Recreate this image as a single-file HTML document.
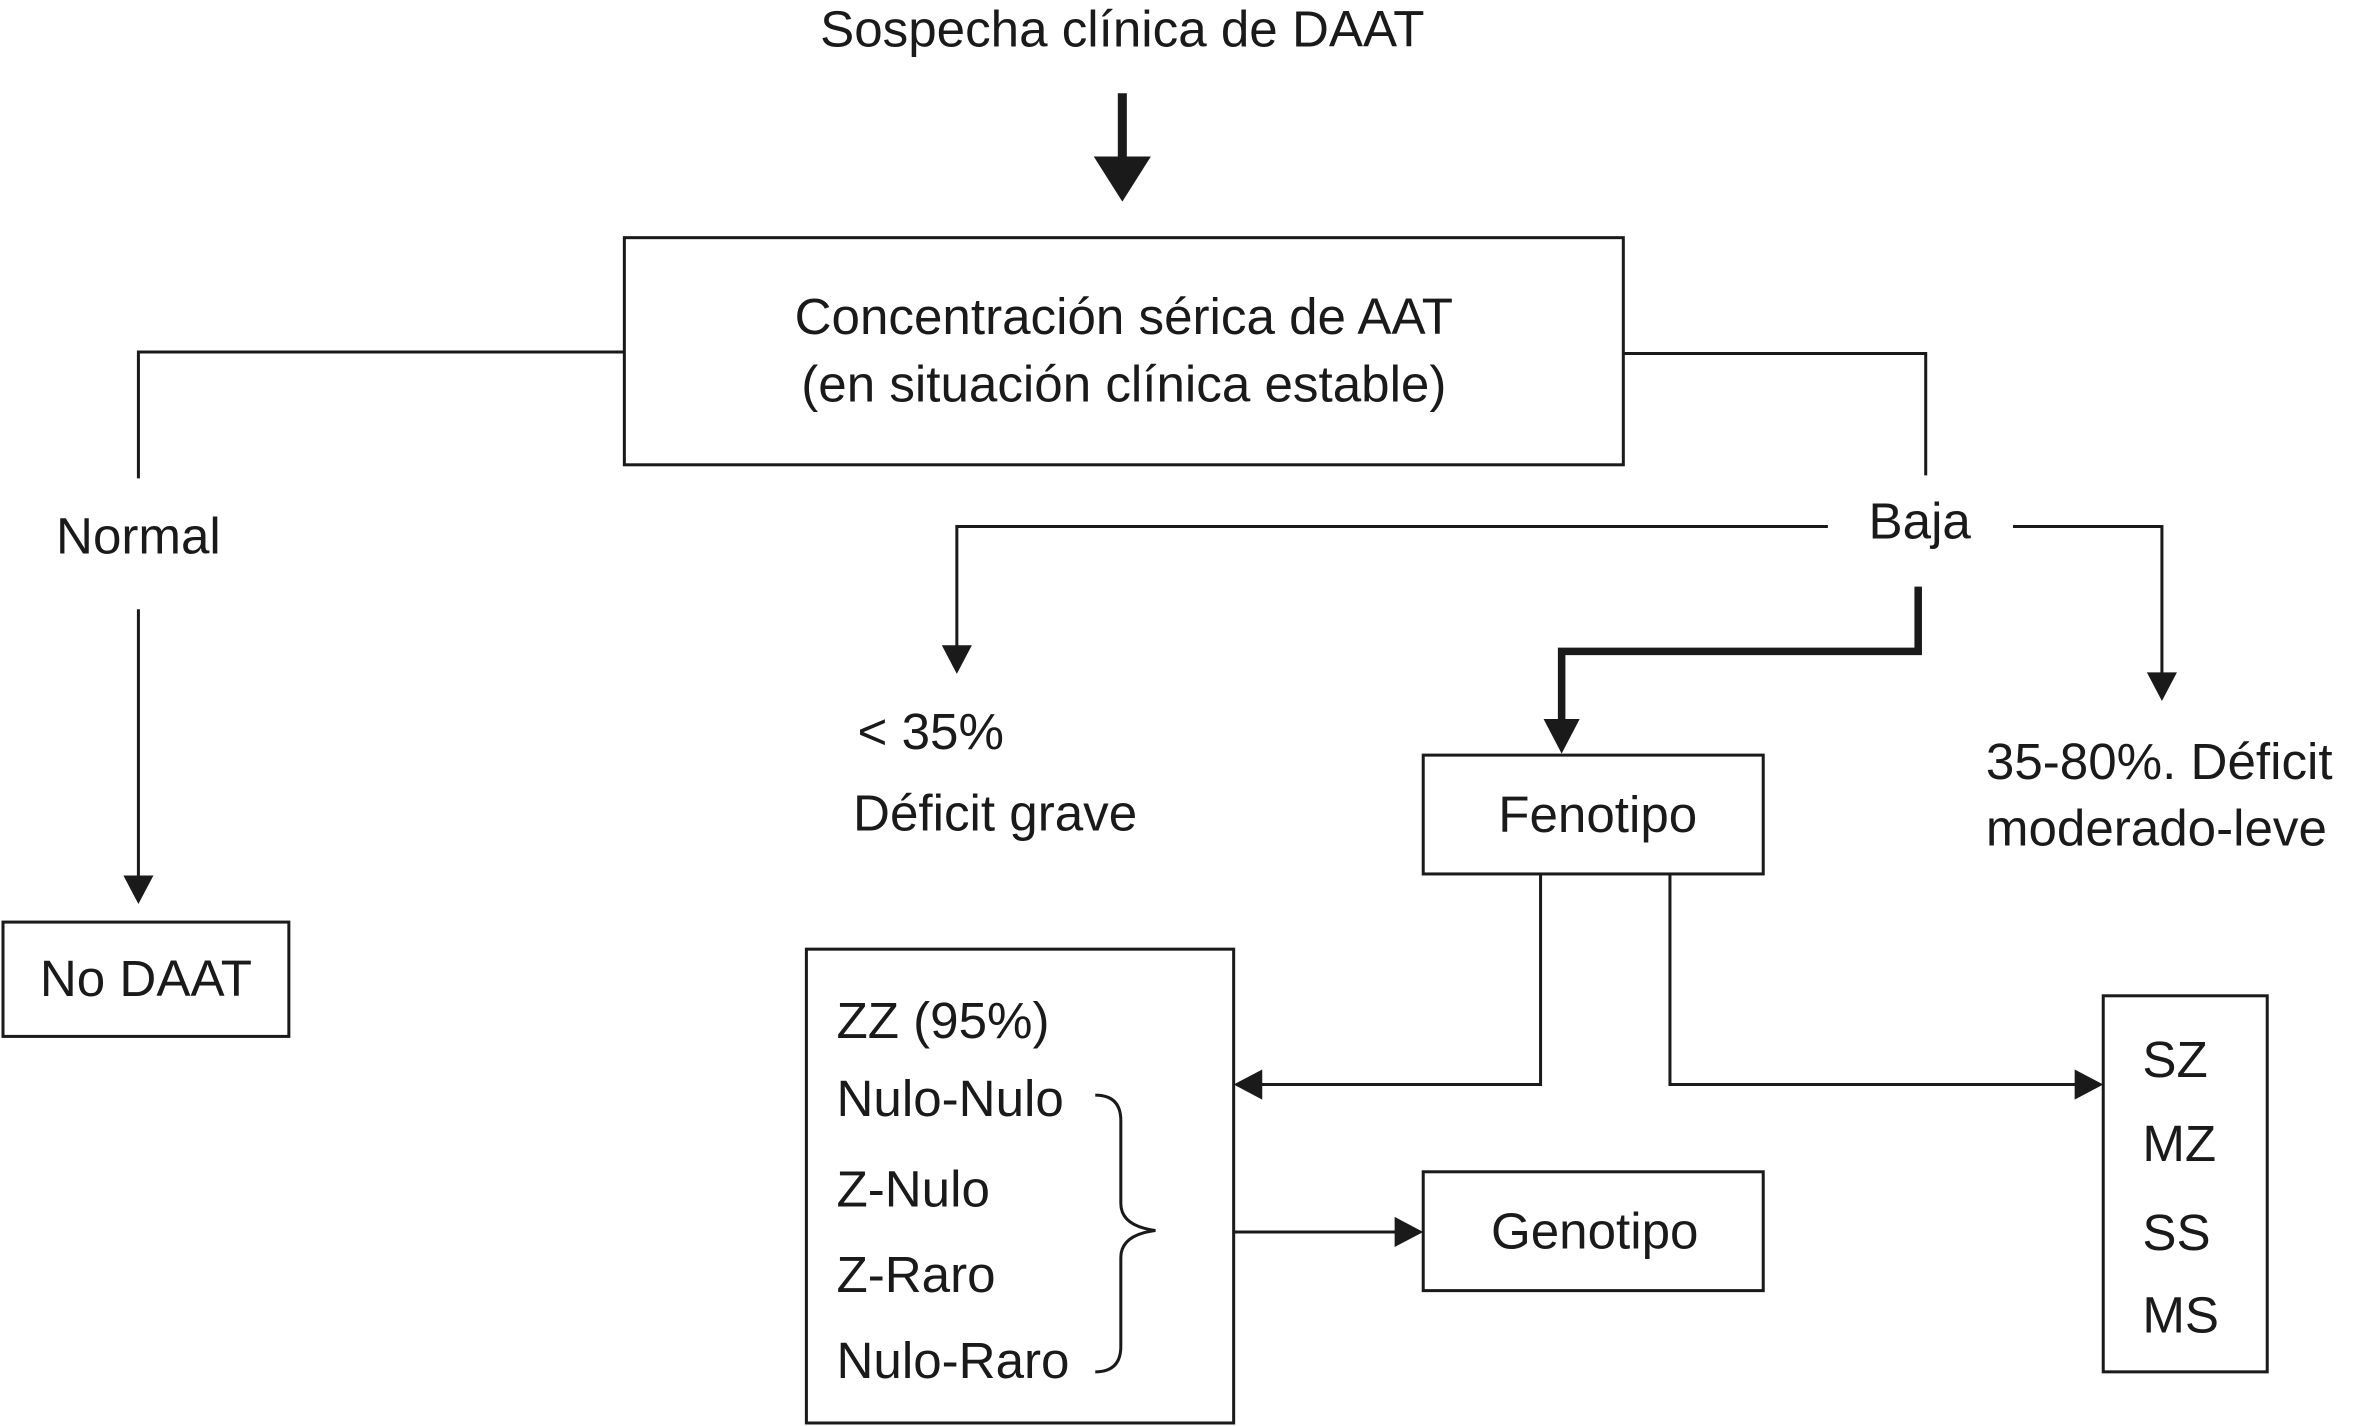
<!DOCTYPE html>
<html><head><meta charset="utf-8"><style>
html,body{margin:0;padding:0;background:#fff;}
svg{display:block;}
text{font-family:"Liberation Sans",Arial,sans-serif;font-size:34px;fill:#1a1a1a;}
</style></head><body>
<svg width="2359" height="1426" viewBox="0 0 1568 948" preserveAspectRatio="none" xmlns="http://www.w3.org/2000/svg">
<g stroke="#1a1a1a" fill="none" stroke-width="2">
<rect x="415" y="158" width="664" height="151"/>
<rect x="2" y="613" width="190" height="76"/>
<rect x="946" y="502" width="226" height="79"/>
<rect x="536" y="631" width="284" height="315"/>
<rect x="1398" y="662" width="109" height="250"/>
<rect x="946" y="779" width="226" height="79"/>
<polyline points="415,234 92,234 92,318"/>
<polyline points="92,405 92,582"/>
<polyline points="1079,235 1280,235 1280,316"/>
<polyline points="1215,350 636,350 636,430"/>
<polyline points="1338,350 1437,350 1437,448"/>
<polyline points="1024,581 1024,721 838,721"/>
<polyline points="1110,581 1110,721 1380,721"/>
<polyline points="820,819 928,819"/>
<path d="M728,728 Q745,728 745,745 L745,800 Q745,815 768,818 Q745,821 745,836 L745,895 Q745,912 728,912"/>
<polyline points="1275,390 1275,433 1038,433 1038,480" stroke-width="5"/>
<line x1="746" y1="62" x2="746" y2="106" stroke-width="6"/>
</g>
<g fill="#1a1a1a">
<polygon points="727,104 765,104 746,134"/>
<polygon points="1026,478 1050,478 1038,501"/>
<polygon points="82,582 102,582 92,601"/>
<polygon points="626,429 646,429 636,448"/>
<polygon points="1427,447 1447,447 1437,466"/>
<polygon points="839,711 839,731 820,721"/>
<polygon points="1379,711 1379,731 1398,721"/>
<polygon points="927,809 927,829 946,819"/>
</g>
<text x="746" y="31" text-anchor="middle">Sospecha clínica de DAAT</text>
<text x="747" y="222" text-anchor="middle">Concentración sérica de AAT</text>
<text x="747" y="267" text-anchor="middle">(en situación clínica estable)</text>
<text x="92" y="368" text-anchor="middle">Normal</text>
<text x="97" y="662" text-anchor="middle">No DAAT</text>
<text x="1276" y="358" text-anchor="middle">Baja</text>
<text x="570" y="498">&lt; 35%</text>
<text x="567" y="552">Déficit grave</text>
<text x="1062" y="553" text-anchor="middle">Fenotipo</text>
<text x="1320" y="518">35-80%. Déficit</text>
<text x="1320" y="562">moderado-leve</text>
<text x="556" y="690">ZZ (95%)</text>
<text x="556" y="742">Nulo-Nulo</text>
<text x="556" y="802">Z-Nulo</text>
<text x="556" y="859">Z-Raro</text>
<text x="556" y="916">Nulo-Raro</text>
<text x="1060" y="830" text-anchor="middle">Genotipo</text>
<text x="1424" y="716">SZ</text>
<text x="1424" y="772">MZ</text>
<text x="1424" y="831">SS</text>
<text x="1424" y="886">MS</text>
</svg>
</body></html>
